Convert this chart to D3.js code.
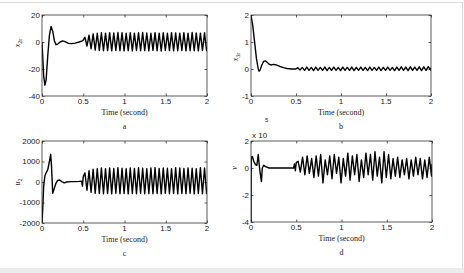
<!DOCTYPE html>
<html>
<head>
<meta charset="utf-8">
<script src="https://cdnjs.cloudflare.com/ajax/libs/d3/7.8.5/d3.min.js"></script>
<style>
  body { margin: 0; background: #fff; }
  svg { display: block; }
  .tick-label { font-family: "Liberation Sans", Arial, sans-serif; font-size: 8px; fill: #222; }
  .axis-title { font-family: "Liberation Serif", "Times New Roman", serif; font-size: 8px; fill: #222; }
  .line { fill: none; stroke: #000; stroke-width: 1.4; stroke-linejoin: round; }
</style>
</head>
<body>
<div id="chart"></div>
<script>
// Shared time grid for the steady oscillation (peak / trough pairs)
var oscTimes = [0.52, 0.545, 0.57, 0.595, 0.62, 0.645, 0.67, 0.695, 0.72, 0.745,
  0.77, 0.795, 0.82, 0.845, 0.87, 0.895, 0.92, 0.945, 0.97, 0.995,
  1.02, 1.045, 1.07, 1.095, 1.12, 1.145, 1.17, 1.195, 1.22, 1.245,
  1.27, 1.295, 1.32, 1.345, 1.37, 1.395, 1.42, 1.445, 1.47, 1.495,
  1.52, 1.545, 1.57, 1.595, 1.62, 1.645, 1.67, 1.695, 1.72, 1.745,
  1.77, 1.795, 1.82, 1.845, 1.87, 1.895, 1.92, 1.945, 1.97, 1.995];

var xTicks = [0, 0.5, 1, 1.5, 2];

// (a) x_2r
var aStart = [[0, 0], [0.01, -12], [0.02, -25], [0.035, -32], [0.05, -28], [0.07, -10],
  [0.09, 5], [0.11, 11.5], [0.13, 8], [0.15, 1], [0.17, -2], [0.19, -1.5], [0.22, 0],
  [0.25, 0.8], [0.28, 0.3], [0.32, -1], [0.36, -1.2], [0.4, -0.8], [0.45, 0], [0.49, 0.8],
  [0.5, 1.5]];
var aOsc = [3.5, -3, 5, -5, 6, -6, 6.5, -6.3, 6.8, -6.5,
  6.6, -6.4, 6.9, -6.6, 6.7, -6.2, 7, -6.5, 6.8, -6.6,
  6.5, -6.4, 6.9, -6.7, 6.6, -6.3, 6.8, -6.5, 7, -6.4,
  6.7, -6.6, 6.5, -6.2, 6.9, -6.5, 6.6, -6.7, 6.8, -6.3,
  6.5, -6.4, 6.9, -6.6, 6.7, -6.5, 6.6, -6.3, 6.8, -6.6,
  6.5, -6.4, 7, -6.5, 6.7, -6.6, 6.6, -6.3, 6.8, -6.5];
var aEnd = [[2, -4]];
var aTicks = [-40, -20, 0, 20];

// (b) x_3r
var bStart = [[0, 2], [0.02, 1.6], [0.04, 1.0], [0.06, 0.4], [0.08, 0], [0.09, -0.08],
  [0.1, -0.05], [0.12, 0.15], [0.14, 0.28], [0.16, 0.3], [0.18, 0.25], [0.2, 0.18],
  [0.22, 0.15], [0.25, 0.17], [0.28, 0.15], [0.32, 0.1], [0.36, 0.05], [0.4, 0.02],
  [0.45, 0], [0.5, 0]];
var bOsc = [0.05, -0.04, 0.06, -0.05, 0.07, -0.05, 0.06, -0.06, 0.07, -0.05,
  0.06, -0.05, 0.07, -0.06, 0.06, -0.05, 0.07, -0.05, 0.06, -0.06,
  0.07, -0.05, 0.06, -0.05, 0.07, -0.06, 0.06, -0.05, 0.07, -0.05,
  0.06, -0.06, 0.07, -0.05, 0.06, -0.05, 0.07, -0.06, 0.06, -0.05,
  0.07, -0.05, 0.06, -0.06, 0.07, -0.05, 0.08, -0.05, 0.07, -0.06,
  0.08, -0.05, 0.07, -0.05, 0.08, -0.06, 0.08, -0.05, 0.09, -0.04];
var bEnd = [[2, 0.05]];
var bTicks = [-1, 0, 1, 2];

// (c) u_2
var cStart = [[0, -2000], [0.01, -1200], [0.02, -200], [0.035, 300], [0.05, 450],
  [0.07, 600], [0.09, 1000], [0.105, 1350], [0.115, 800], [0.13, -550], [0.15, -300],
  [0.17, -50], [0.19, 80], [0.21, 100], [0.24, 20], [0.27, -40], [0.3, 0], [0.35, 20],
  [0.4, 20], [0.45, 30], [0.48, 40], [0.49, -200], [0.5, 250]];
var cOsc = [450, -400, 550, -500, 620, -550, 650, -560, 680, -570,
  650, -560, 690, -580, 660, -550, 700, -570, 670, -560,
  650, -580, 690, -560, 660, -570, 700, -550, 670, -580,
  650, -560, 680, -570, 700, -560, 660, -580, 690, -550,
  670, -570, 650, -560, 700, -580, 680, -560, 660, -570,
  690, -550, 670, -580, 650, -560, 700, -570, 680, -560];
var cEnd = [[2, -300]];
var cTicks = [-2000, -1000, 0, 1000, 2000];

// (d) v, in units of 10^5
var dStart = [[0, -4], [0.003, 0.8], [0.015, 0.85], [0.03, 0.5], [0.05, 0.25],
  [0.065, 0.2], [0.08, 1.0], [0.09, 0.3], [0.1, -0.3], [0.115, -1.0], [0.125, 0],
  [0.14, 0.2], [0.16, 0.1], [0.2, 0], [0.3, 0], [0.4, 0], [0.47, 0], [0.48, 0.3],
  [0.49, -0.2], [0.5, 0.4]];
var dOsc = [0.5, -0.3, 0.8, -0.5, 0.9, -0.4, 0.7, -0.7, 0.9, -0.6,
  1.0, -1.1, 0.6, -0.5, 0.9, -0.8, 1.0, -0.4, 0.8, -1.1,
  0.7, -0.6, 1.1, -0.9, 0.9, -0.5, 1.0, -1.0, 0.6, -0.7,
  1.1, -0.5, 1.0, -0.9, 1.2, -0.6, 0.8, -1.1, 1.2, -0.7,
  1.0, -0.8, 0.7, -0.6, 0.8, -0.7, 0.6, -0.5, 0.7, -0.8,
  0.6, -0.6, 0.8, -0.5, 0.7, -0.8, 0.6, -0.7, 0.8, -0.6];
var dEnd = [[2, 0.3]];
var dTicks = [-4, -2, 0, 2];

var joinSeries = function(start, osc, end) {
  return start.concat(osc.map((v, i) => [oscTimes[i], v]), end);
};

var width = 464;
var height = 273;

var svg = d3.select("#chart")
  .append("svg")
  .attr("width", width)
  .attr("height", height);

// Figure frame
svg.append("rect")
  .attr("x", 0).attr("y", 0).attr("width", width).attr("height", height)
  .attr("fill", "#fff");
svg.append("rect")
  .attr("x", 0).attr("y", 268).attr("width", width).attr("height", 5)
  .attr("fill", "#ececec");
svg.append("line")
  .attr("x1", 0).attr("x2", 463).attr("y1", 2.5).attr("y2", 2.5)
  .attr("stroke", "#dcdcdc");
svg.append("line")
  .attr("x1", 462.5).attr("x2", 462.5).attr("y1", 2).attr("y2", 268)
  .attr("stroke", "#dcdcdc");

var renderPanel = function(config) {
  var box = config.box;
  var xScale = d3.scaleLinear().domain([0, 2]).range([box.x0, box.x1]);
  var yScale = d3.scaleLinear().domain(config.yDomain).range([box.y1, box.y0]);

  var g = svg.append("g").attr("class", "panel");

  // Clip so the line stays inside the axes box
  var clipId = "clip-" + config.name;
  g.append("clipPath").attr("id", clipId)
    .append("rect")
    .attr("x", box.x0).attr("y", box.y0 - 1)
    .attr("width", box.x1 - box.x0).attr("height", box.y1 - box.y0 + 2);

  // Inward ticks on all four sides (MATLAB style)
  var tickLen = 2.5;
  var axes = [
    { axis: d3.axisBottom(xScale).tickValues(xTicks), t: [0, box.y1], inner: tickLen },
    { axis: d3.axisTop(xScale).tickValues(xTicks), t: [0, box.y0], inner: tickLen },
    { axis: d3.axisLeft(yScale).tickValues(config.yTicks), t: [box.x0, 0], inner: tickLen },
    { axis: d3.axisRight(yScale).tickValues(config.yTicks), t: [box.x1, 0], inner: tickLen }
  ];
  axes.forEach(function(a) {
    var ag = g.append("g")
      .attr("transform", `translate(${a.t[0]},${a.t[1]})`)
      .call(a.axis.tickSize(-a.inner).tickFormat(""));
    ag.select(".domain").remove();
    ag.selectAll("line").attr("stroke", "#333").attr("stroke-width", 0.8);
  });

  // Tick labels
  g.append("g").selectAll("text")
    .data(xTicks).enter().append("text")
    .attr("class", "tick-label")
    .attr("x", d => xScale(d))
    .attr("y", box.y1 + 8)
    .attr("text-anchor", "middle")
    .text(d => d);

  g.append("g").selectAll("text")
    .data(config.yTicks).enter().append("text")
    .attr("class", "tick-label")
    .attr("x", box.x0 - 2)
    .attr("y", d => yScale(d) + 2.8)
    .attr("text-anchor", "end")
    .text(d => d);

  // Data line
  var line = d3.line()
    .x(d => xScale(d[0]))
    .y(d => yScale(d[1]));

  g.append("path")
    .datum(config.data)
    .attr("class", "line")
    .attr("clip-path", `url(#${clipId})`)
    .attr("d", line);

  // Axes box
  g.append("rect")
    .attr("x", box.x0).attr("y", box.y0)
    .attr("width", box.x1 - box.x0).attr("height", box.y1 - box.y0)
    .attr("fill", "none")
    .attr("stroke", "#333")
    .attr("stroke-width", 0.8);

  // Titles
  var mid = (box.x0 + box.x1) / 2;
  g.append("text")
    .attr("class", "axis-title")
    .attr("x", mid).attr("y", box.y1 + 19)
    .attr("text-anchor", "middle")
    .text("Time (second)");

  g.append("text")
    .attr("class", "axis-title")
    .attr("x", mid).attr("y", box.y1 + 33)
    .attr("text-anchor", "middle")
    .text(config.name);

  var yl = g.append("text")
    .attr("class", "axis-title")
    .attr("transform", `translate(${config.yLabelPos[0]},${config.yLabelPos[1]}) rotate(-90)`)
    .attr("text-anchor", "middle");
  yl.append("tspan").style("font-style", "italic").text(config.yLabel[0]);
  if (config.yLabel[1]) {
    yl.append("tspan")
      .attr("dy", 2)
      .style("font-size", "6px")
      .text(config.yLabel[1]);
  }
};

renderPanel({
  name: "a",
  box: { x0: 42, x1: 207, y0: 15, y1: 96 },
  yDomain: [-40, 20],
  yTicks: aTicks,
  data: joinSeries(aStart, aOsc, aEnd),
  yLabel: ["x", "2r"],
  yLabelPos: [20, 43]
});

renderPanel({
  name: "b",
  box: { x0: 251, x1: 431, y0: 15, y1: 96 },
  yDomain: [-1, 2],
  yTicks: bTicks,
  data: joinSeries(bStart, bOsc, bEnd),
  yLabel: ["x", "3r"],
  yLabelPos: [238, 57]
});

renderPanel({
  name: "c",
  box: { x0: 42, x1: 207, y0: 141, y1: 223 },
  yDomain: [-2000, 2000],
  yTicks: cTicks,
  data: joinSeries(cStart, cOsc, cEnd),
  yLabel: ["u", "2"],
  yLabelPos: [20, 182]
});

renderPanel({
  name: "d",
  box: { x0: 251, x1: 432, y0: 141, y1: 222 },
  yDomain: [-4, 2],
  yTicks: dTicks,
  data: joinSeries(dStart, dOsc, dEnd),
  yLabel: ["v", ""],
  yLabelPos: [237, 168]
});

// Exponent of panel (d), placed where the original figure left it
svg.append("text")
  .attr("class", "tick-label")
  .attr("x", 252).attr("y", 138)
  .text("x 10");
svg.append("text")
  .attr("class", "tick-label")
  .style("font-size", "6px")
  .attr("x", 265).attr("y", 122)
  .text("5");
</script>
</body>
</html>
